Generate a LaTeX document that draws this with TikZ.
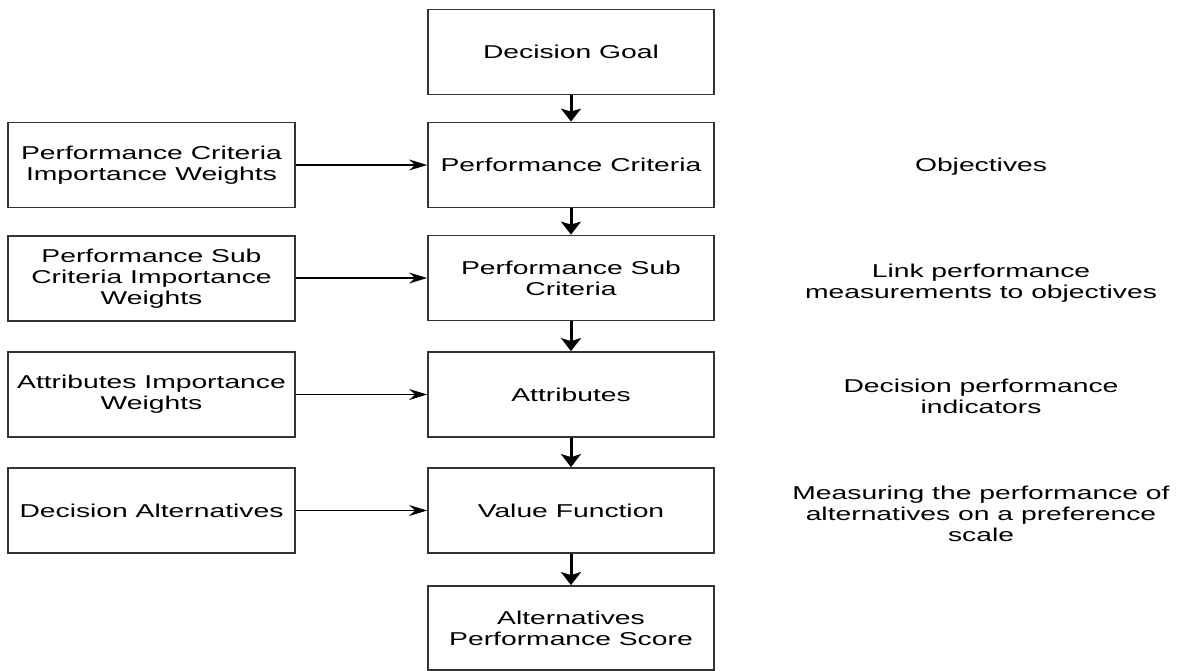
\documentclass[tikz,border=0pt]{standalone}
\usepackage{fontspec}
\setmainfont{Liberation Sans}[FakeStretch=1.52]
\usetikzlibrary{arrows.meta}
\begin{document}
\begin{tikzpicture}[x=1pt,y=-1pt,
  box/.style={draw=black!80, line width=1.8pt, minimum width=286pt, minimum height=85pt, inner sep=0pt, align=center, font=\fontsize{18.6}{21}\selectfont},
  note/.style={align=center, inner sep=0pt, font=\fontsize{18.6}{21}\selectfont},
  vflow/.style={line width=3pt, -{Stealth[length=13pt,width=20pt,inset=3pt]}},
  hflow/.style={line width=1.4pt, -{Stealth[length=18pt,width=11pt,inset=6pt]}}]
\useasboundingbox (0,0) rectangle (1182,671);
% centre column
\node[box] (goal) at (571,52) {\raisebox{-2pt}{Decision Goal}};
\node[box] (pc) at (571,165) {\raisebox{-2pt}{Performance Criteria}};
\node[box] (psc) at (571,278) {Performance Sub\\Criteria};
\node[box] (att) at (571,394.5) {\raisebox{-2pt}{Attributes}};
\node[box] (vf) at (571,510.5) {\raisebox{-2pt}{Value Function}};
\node[box, minimum height=84pt] (aps) at (571,628) {Alternatives\\Performance Score};
% left column
\node[box, minimum width=287pt] (pcw) at (151.5,165) {Performance Criteria\\Importance Weights};
\node[box, minimum width=287pt] (pscw) at (151.5,278.5) {Performance Sub\\Criteria Importance\\Weights};
\node[box, minimum width=287pt] (attw) at (151.5,394.5) {Attributes Importance\\Weights};
\node[box, minimum width=287pt] (alt) at (151.5,510.5) {\raisebox{-2pt}{Decision Alternatives}};
% right notes
\node[note] (n1) at (981,167) {Objectives};
\node[note] (n2) at (981,283) {Link performance\\measurements to objectives};
\node[note] (n3) at (981,396) {Decision performance\\indicators};
\node[note] (n4) at (981,514) {Measuring the performance of\\alternatives on a preference\\scale};
% vertical arrows
\draw[vflow] (goal) -- (pc);
\draw[vflow] (pc) -- (psc);
\draw[vflow] (psc) -- (att);
\draw[vflow] (att) -- (vf);
\draw[vflow] (vf) -- (aps);
% horizontal arrows
\draw[hflow] (pcw) -- (pc);
\draw[hflow] (pscw.east |- psc) -- (psc);
\draw[hflow] (attw) -- (att);
\draw[hflow] (alt) -- (vf);
\end{tikzpicture}
\end{document}
